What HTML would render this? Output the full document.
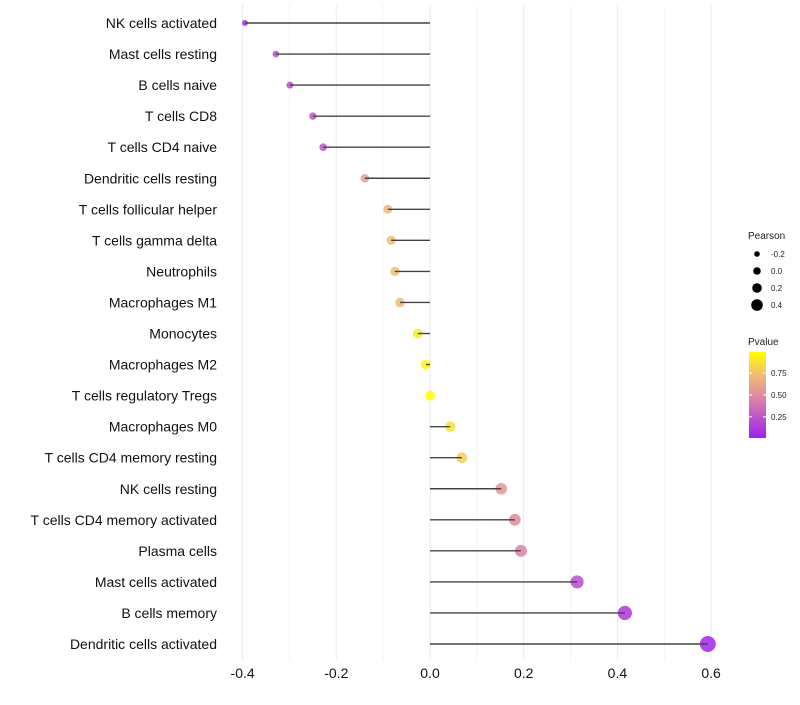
<!DOCTYPE html>
<html><head><meta charset="utf-8"><style>
body{margin:0;background:#fff;font-family:"Liberation Sans",sans-serif}
svg text{font-family:"Liberation Sans",sans-serif}
</style></head><body>
<svg id="c" width="800" height="700"></svg>
<script>
const categories=["NK cells activated","Mast cells resting","B cells naive","T cells CD8","T cells CD4 naive","Dendritic cells resting","T cells follicular helper","T cells gamma delta","Neutrophils","Macrophages M1","Monocytes","Macrophages M2","T cells regulatory  Tregs","Macrophages M0","T cells CD4 memory resting","NK cells resting","T cells CD4 memory activated","Plasma cells","Mast cells activated","B cells memory","Dendritic cells activated"];
const pearson=[-0.395,-0.329,-0.299,-0.25,-0.228,-0.139,-0.09,-0.083,-0.075,-0.064,-0.026,-0.009,0.0,0.043,0.068,0.152,0.181,0.194,0.314,0.416,0.593];
const pvalue=[0.05,0.2,0.2,0.25,0.25,0.58,0.72,0.74,0.74,0.72,0.92,0.97,1.0,0.88,0.8,0.55,0.5,0.45,0.2,0.1,0.02];
const xTicks=[-0.4,-0.2,0.0,0.2,0.4,0.6];
const xTickLabels=["-0.4","-0.2","0.0","0.2","0.4","0.6"];
const sizeLegend=[-0.2,0.0,0.2,0.4];
const sizeLegendLabels=["-0.2","0.0","0.2","0.4"];
const colorTicks=[0.75,0.5,0.25];
const colorTickLabels=["0.75","0.50","0.25"];

const NS="http://www.w3.org/2000/svg";
const svg=document.getElementById('c');
function mk(t,a,p){const e=document.createElementNS(NS,t);for(const k in a)e.setAttribute(k,a[k]);(p||svg).appendChild(e);return e;}
const x=v=>430+468.5*v;
const y=i=>23+i*31.05;
const r=v=>Math.max(1.5,5+5*v);
const stops=[[0,[160,32,240]],[0.5,[224,140,160]],[0.75,[240,192,112]],[1,[255,255,0]]];
function col(p){for(let i=1;i<stops.length;i++){if(p<=stops[i][0]){const a=stops[i-1],b=stops[i],t=(p-a[0])/(b[0]-a[0]);const c=a[1].map((v,k)=>Math.round(v+(b[1][k]-v)*t));return `rgb(${c})`;}}return 'rgb(255,255,0)';}

for(let v=-0.4;v<=0.601;v+=0.1){
  const g=mk('line',{x1:x(v),x2:x(v),y1:5,y2:660,stroke:Math.abs(Math.round(v*10))%2==0?'#ebebeb':'#f4f4f4','stroke-width':1});
  
  
}
xTicks.forEach((v,i)=>{
  const t=mk('text',{x:x(v),y:678,'text-anchor':'middle','font-size':14,fill:'#111'});t.textContent=xTickLabels[i];
  
  
});
categories.forEach((c,i)=>{
  const t=mk('text',{x:217,y:y(i)+5,'text-anchor':'end','font-size':14,fill:'#111'});t.textContent=c;
  
  
  const d=mk('circle',{cx:x(pearson[i]),cy:y(i),r:r(pearson[i]),fill:col(pvalue[i]),'fill-opacity':0.85});
  
  
  const l=mk('line',{x1:x(0),x2:x(pearson[i]),y1:y(i),y2:y(i),stroke:'#444','stroke-width':1.4});
  
  
});
let t=mk('text',{x:748,y:239,'font-size':10,fill:'#222'});t.textContent='Pearson';


sizeLegend.forEach((v,i)=>{
  const cy=254+i*17;
  const c=mk('circle',{cx:757,cy:cy,r:r(v)-1.2,fill:'#000'});
  
  
  const tt=mk('text',{x:771,y:cy+3,'font-size':8,fill:'#222'});tt.textContent=sizeLegendLabels[i];
  
  
});
t=mk('text',{x:748,y:345,'font-size':10,fill:'#222'});t.textContent='Pvalue';


const defs=mk('defs',{});
const lg=mk('linearGradient',{id:'g',x1:0,y1:1,x2:0,y2:0},defs);
stops.forEach(s=>mk('stop',{offset:s[0],'stop-color':`rgb(${s[1]})`},lg));
const bar=mk('rect',{x:749,y:352,width:17,height:86,fill:'url(#g)'});


colorTicks.forEach((v,i)=>{
  const cy=437-(v-0.02)/(0.99-0.02)*85;
  mk('line',{x1:749,x2:752,y1:cy,y2:cy,stroke:'#fff'});
  mk('line',{x1:763,x2:766,y1:cy,y2:cy,stroke:'#fff'});
  const tt=mk('text',{x:771,y:cy+3,'font-size':8,fill:'#222'});tt.textContent=colorTickLabels[i];
  
  
});
</script>
</body></html>
